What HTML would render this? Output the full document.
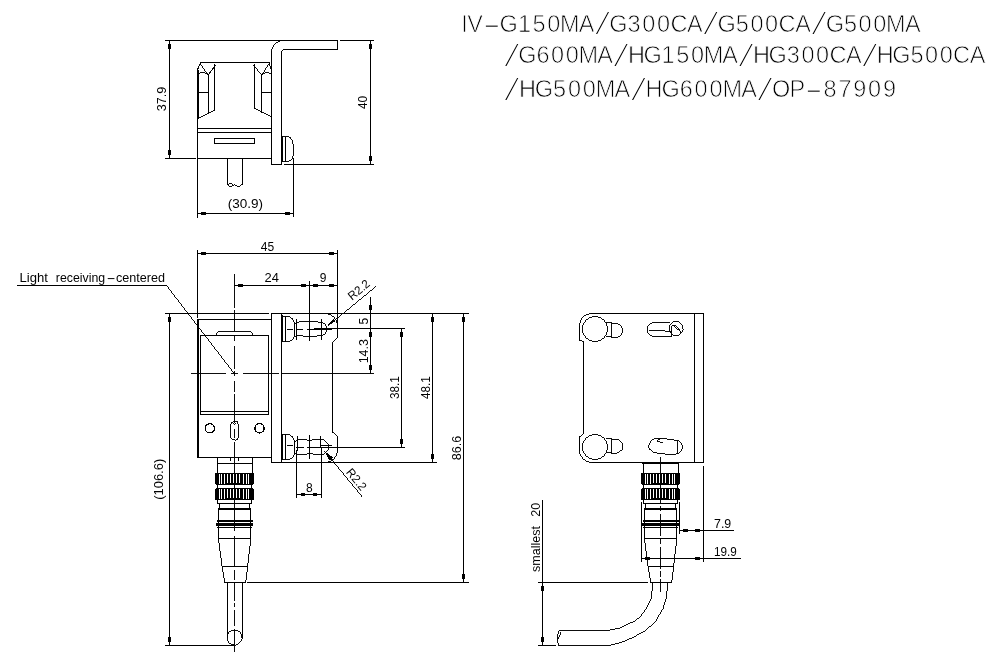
<!DOCTYPE html>
<html lang="en"><head><meta charset="utf-8"><title>IV-G series dimensions</title>
<style>html,body{margin:0;padding:0;background:#fff}body{width:1000px;height:662px;overflow:hidden}svg{display:block}.t{stroke:#fff;stroke-width:0.75px}</style>
</head><body>
<svg width="1000" height="662" viewBox="0 0 1000 662">
<rect width="1000" height="662" fill="#fff"/>
<g fill="#000" stroke="none" shape-rendering="crispEdges">
<rect x="165" y="40" width="173" height="1"/>
<rect x="340" y="40" width="34" height="1"/>
<rect x="169" y="40" width="1" height="119"/>
<rect x="168" y="44" width="3" height="5"/>
<rect x="168" y="150" width="3" height="5"/>
<rect x="165" y="158" width="31" height="1"/>
<rect x="197" y="158" width="75" height="1"/>
<rect x="197" y="68" width="1" height="150"/>
<rect x="198" y="70" width="1" height="49"/>
<rect x="200" y="62" width="70" height="1"/>
<rect x="370" y="40" width="1" height="125"/>
<rect x="369" y="44" width="3" height="5"/>
<rect x="369" y="156" width="3" height="5"/>
<rect x="284" y="164" width="90" height="1"/>
<rect x="271" y="164" width="11" height="1"/>
<rect x="271" y="51" width="1" height="114"/>
<rect x="281" y="51" width="1" height="114"/>
<rect x="283" y="49" width="55" height="1"/>
<rect x="337" y="40" width="1" height="10"/>
<rect x="197" y="128" width="75" height="1"/>
<rect x="197" y="132" width="75" height="1"/>
<rect x="214" y="138" width="41" height="1"/>
<rect x="214" y="143" width="41" height="1"/>
<rect x="214" y="138" width="1" height="6"/>
<rect x="254" y="138" width="1" height="6"/>
<rect x="227" y="158" width="1" height="27"/>
<rect x="242" y="158" width="1" height="27"/>
<rect x="208" y="74" width="1" height="39"/>
<rect x="214" y="64" width="1" height="46"/>
<rect x="197" y="92" width="12" height="1"/>
<rect x="254" y="64" width="1" height="45"/>
<rect x="261" y="74" width="1" height="39"/>
<rect x="261" y="92" width="11" height="1"/>
<rect x="293" y="158" width="1" height="59"/>
<rect x="197" y="213" width="97" height="1"/>
<rect x="201" y="212" width="5" height="3"/>
<rect x="285" y="212" width="5" height="3"/>
<rect x="282" y="136" width="1" height="26"/>
<rect x="285" y="137" width="1" height="25"/>
<rect x="165" y="313" width="104" height="1"/>
<rect x="271" y="313" width="198" height="1"/>
<rect x="169" y="313" width="1" height="333"/>
<rect x="168" y="317" width="3" height="5"/>
<rect x="168" y="637" width="3" height="5"/>
<rect x="165" y="645" width="69" height="1"/>
<rect x="197" y="250" width="1" height="68"/>
<rect x="337" y="250" width="1" height="77"/>
<rect x="197" y="253" width="141" height="1"/>
<rect x="201" y="252" width="5" height="3"/>
<rect x="329" y="252" width="5" height="3"/>
<rect x="234" y="285" width="104" height="1"/>
<rect x="238" y="284" width="5" height="3"/>
<rect x="301" y="284" width="5" height="3"/>
<rect x="313" y="284" width="5" height="3"/>
<rect x="329" y="284" width="5" height="3"/>
<rect x="309" y="281" width="1" height="60"/>
<rect x="197" y="319" width="2" height="139"/>
<rect x="197" y="319" width="75" height="1"/>
<rect x="197" y="457" width="75" height="1"/>
<rect x="200" y="335" width="1" height="80"/>
<rect x="268" y="335" width="1" height="80"/>
<rect x="200" y="335" width="69" height="1"/>
<rect x="200" y="411" width="69" height="1"/>
<rect x="200" y="414" width="69" height="1"/>
<rect x="271" y="313" width="1" height="150"/>
<rect x="281" y="313" width="1" height="150"/>
<rect x="271" y="462" width="166" height="1"/>
<rect x="332" y="343" width="1" height="90"/>
<rect x="337" y="326" width="1" height="12"/>
<rect x="337" y="437" width="1" height="14"/>
<rect x="370" y="297" width="1" height="77"/>
<rect x="369" y="305" width="3" height="5"/>
<rect x="369" y="332" width="3" height="5"/>
<rect x="369" y="365" width="3" height="5"/>
<rect x="314" y="328" width="91" height="1"/>
<rect x="401" y="328" width="1" height="120"/>
<rect x="400" y="332" width="3" height="5"/>
<rect x="400" y="439" width="3" height="5"/>
<rect x="321" y="447" width="84" height="1"/>
<rect x="432" y="313" width="1" height="150"/>
<rect x="431" y="317" width="3" height="5"/>
<rect x="431" y="454" width="3" height="5"/>
<rect x="463" y="313" width="1" height="270"/>
<rect x="462" y="317" width="3" height="5"/>
<rect x="462" y="574" width="3" height="5"/>
<rect x="247" y="582" width="222" height="1"/>
<rect x="296" y="450" width="1" height="48"/>
<rect x="321" y="447" width="1" height="51"/>
<rect x="296" y="494" width="26" height="1"/>
<rect x="301" y="493" width="4" height="3"/><rect x="313" y="493" width="4" height="3"/>
<rect x="282" y="315" width="1" height="27"/>
<rect x="285" y="316" width="1" height="26"/>
<rect x="294" y="323" width="1" height="13"/>
<rect x="282" y="434" width="1" height="26"/>
<rect x="285" y="434" width="1" height="26"/>
<rect x="294" y="441" width="1" height="13"/>
<rect x="296" y="319" width="1" height="21"/>
<rect x="321" y="319" width="1" height="21"/>
<rect x="297" y="436" width="1" height="15"/>
<rect x="309" y="435" width="1" height="24"/>
<rect x="320" y="436" width="1" height="12"/>
<rect x="287" y="329" width="6" height="1"/>
<rect x="296" y="329" width="7" height="1"/>
<rect x="307" y="329" width="25" height="1"/>
<rect x="287" y="445" width="6" height="1"/>
<rect x="320" y="445" width="12" height="1"/>
<rect x="296" y="447" width="8" height="1"/>
<rect x="307" y="447" width="14" height="1"/>
<rect x="230" y="458" width="1" height="3"/>
<rect x="238" y="458" width="1" height="3"/>
<rect x="217" y="457" width="1" height="16"/>
<rect x="252" y="457" width="1" height="16"/>
<rect x="217" y="463" width="35" height="1"/>
<rect x="215" y="473" width="39" height="11"/><rect x="216" y="484" width="37" height="1"/>
<rect x="215" y="489" width="39" height="11"/><rect x="216" y="488" width="37" height="1"/>
<rect x="217" y="485" width="1" height="4"/>
<rect x="251" y="485" width="1" height="4"/>
<rect x="217" y="500" width="1" height="4"/>
<rect x="251" y="500" width="1" height="4"/>
<rect x="217" y="503" width="35" height="1"/>
<rect x="219" y="503" width="1" height="7"/>
<rect x="249" y="503" width="1" height="7"/>
<rect x="218" y="508" width="33" height="2"/>
<rect x="218" y="509" width="1" height="30"/>
<rect x="250" y="509" width="1" height="30"/>
<rect x="217" y="520" width="36" height="2"/>
<rect x="216" y="523" width="37" height="3"/>
<rect x="217" y="527" width="35" height="1"/>
<rect x="218" y="538" width="33" height="1"/>
<rect x="222" y="566" width="26" height="1"/>
<rect x="224" y="582" width="22" height="1"/>
<rect x="643" y="462" width="1" height="11"/>
<rect x="678" y="462" width="1" height="11"/>
<rect x="643" y="463" width="35" height="1"/>
<rect x="641" y="473" width="39" height="11"/><rect x="642" y="484" width="37" height="1"/>
<rect x="641" y="489" width="39" height="11"/><rect x="642" y="488" width="37" height="1"/>
<rect x="643" y="485" width="1" height="4"/>
<rect x="677" y="485" width="1" height="4"/>
<rect x="643" y="500" width="1" height="4"/>
<rect x="677" y="500" width="1" height="4"/>
<rect x="643" y="503" width="35" height="1"/>
<rect x="645" y="503" width="1" height="7"/>
<rect x="675" y="503" width="1" height="7"/>
<rect x="644" y="508" width="33" height="2"/>
<rect x="644" y="509" width="1" height="30"/>
<rect x="676" y="509" width="1" height="30"/>
<rect x="643" y="520" width="36" height="2"/>
<rect x="642" y="523" width="37" height="3"/>
<rect x="643" y="527" width="35" height="1"/>
<rect x="644" y="538" width="33" height="1"/>
<rect x="648" y="566" width="26" height="1"/>
<rect x="650" y="582" width="22" height="1"/>
<rect x="227" y="582" width="1" height="56"/>
<rect x="242" y="582" width="1" height="56"/>
<rect x="591" y="313" width="113" height="1"/>
<rect x="703" y="313" width="1" height="150"/>
<rect x="694" y="313" width="1" height="150"/>
<rect x="592" y="462" width="112" height="1"/>
<rect x="642" y="463" width="37" height="1"/>
<rect x="579" y="326" width="1" height="15"/>
<rect x="583" y="342" width="1" height="92"/>
<rect x="579" y="436" width="1" height="15"/>
<rect x="641" y="502" width="1" height="60"/>
<rect x="679" y="502" width="1" height="32"/>
<rect x="703" y="466" width="1" height="96"/>
<rect x="679" y="530" width="55" height="1"/>
<rect x="683" y="529" width="5" height="3"/>
<rect x="695" y="529" width="5" height="3"/>
<rect x="641" y="558" width="100" height="1"/>
<rect x="645" y="557" width="5" height="3"/>
<rect x="695" y="557" width="5" height="3"/>
<rect x="542" y="500" width="1" height="146"/>
<rect x="541" y="586" width="3" height="5"/>
<rect x="541" y="637" width="3" height="5"/>
<rect x="538" y="582" width="110" height="1"/>
<rect x="538" y="645" width="18" height="1"/>
<rect x="17" y="285" width="150" height="1"/>
</g>
<g fill="#fff" stroke="none" shape-rendering="crispEdges">
<rect x="219" y="474" width="1" height="10"/>
<rect x="221" y="474" width="1" height="10"/>
<rect x="224" y="474" width="1" height="10"/>
<rect x="227" y="474" width="1" height="9"/>
<rect x="230" y="474" width="1" height="9"/>
<rect x="233" y="474" width="1" height="9"/>
<rect x="236" y="474" width="1" height="9"/>
<rect x="239" y="474" width="1" height="9"/>
<rect x="243" y="474" width="1" height="10"/>
<rect x="246" y="474" width="1" height="10"/>
<rect x="248" y="474" width="1" height="10"/>
<rect x="219" y="489" width="1" height="10"/>
<rect x="221" y="489" width="1" height="10"/>
<rect x="224" y="489" width="1" height="10"/>
<rect x="227" y="489" width="1" height="9"/>
<rect x="230" y="489" width="1" height="9"/>
<rect x="233" y="489" width="1" height="9"/>
<rect x="236" y="489" width="1" height="9"/>
<rect x="239" y="489" width="1" height="9"/>
<rect x="243" y="489" width="1" height="10"/>
<rect x="246" y="489" width="1" height="10"/>
<rect x="248" y="489" width="1" height="10"/>
<rect x="645" y="474" width="1" height="10"/>
<rect x="647" y="474" width="1" height="10"/>
<rect x="650" y="474" width="1" height="10"/>
<rect x="653" y="474" width="1" height="9"/>
<rect x="656" y="474" width="1" height="9"/>
<rect x="659" y="474" width="1" height="9"/>
<rect x="662" y="474" width="1" height="9"/>
<rect x="665" y="474" width="1" height="9"/>
<rect x="669" y="474" width="1" height="10"/>
<rect x="672" y="474" width="1" height="10"/>
<rect x="674" y="474" width="1" height="10"/>
<rect x="645" y="489" width="1" height="10"/>
<rect x="647" y="489" width="1" height="10"/>
<rect x="650" y="489" width="1" height="10"/>
<rect x="653" y="489" width="1" height="9"/>
<rect x="656" y="489" width="1" height="9"/>
<rect x="659" y="489" width="1" height="9"/>
<rect x="662" y="489" width="1" height="9"/>
<rect x="665" y="489" width="1" height="9"/>
<rect x="669" y="489" width="1" height="10"/>
<rect x="672" y="489" width="1" height="10"/>
<rect x="674" y="489" width="1" height="10"/>
</g>
<g fill="none" stroke="#000" stroke-width="0.95" shape-rendering="crispEdges">
<path d="M271.5 52 A11.5 11.5 0 0 1 283 40.5" />
<path d="M281.5 52 A2.5 2.5 0 0 1 284 49.5" />
<path d="M197.5 69 L200 62.5 L208.5 74.5 L216 65" />
<path d="M197.5 74 Q203 71 208.5 74.5" />
<path d="M208.5 74.5 L214.5 66" />
<path d="M214.5 109.5 L197.5 118.5" />
<path d="M271.5 69 L269 62.5 L261.5 74.5 L253 65" />
<path d="M271.5 74 Q266 71 261.5 74.5" />
<path d="M254.5 108.5 L271.5 117.5" />
<path d="M227.5 184 Q229 187 232 186 Q234 183 237 186 Q240 187.5 242.5 184" />
<path d="M227.5 184 Q230 181.5 233 184.5" />
<path d="M282.5 136.5 L288 136.5 L290.5 138 L292.3 140.5 L293.5 144.5 L293.5 153.5 L292.3 157.5 L290.5 160 L288 161.5 L282.5 161.5" />
<path d="M167.3 285.5 L235 373.5" />
<path d="M215.5 335.5 Q216 331.5 219 331.5 L250 331.5 Q253 331.5 253.5 335.5" />
<circle cx="209.8" cy="428.3" r="4.6" stroke-width="1.3"/><circle cx="259.5" cy="428.3" r="4.6" stroke-width="1.3"/>
<path d="M230.5 425 A4 4 0 0 1 238.5 425 L238.5 436 A4 4 0 0 1 230.5 436 Z" />
<circle cx="234.5" cy="423.5" r="1"/>
<path d="M325 313.5 A12.5 12.5 0 0 1 337.5 326" />
<path d="M337.5 337 L332.5 343" />
<path d="M332.5 432 L337.5 437" />
<path d="M337.5 450 A12.5 12.5 0 0 1 325 462.5" />
<path d="M282.5 316.5 L289 316.5 Q293.5 318 294.5 323.5 M282.5 341.5 L288.5 341.5 Q293.5 340 294.5 335.5" />
<path d="M294.5 323.5 Q296 322.3 299 322 Q303 321.5 309 321.5 Q315 321.5 321 322.3 A6.8 6.8 0 0 1 321 335.7 Q315 336.3 309 336.3 Q303 336.3 299 335.5 Q296 335.5 294.5 336" />
<path d="M282.5 434.5 L289 434.5 Q293.5 436 294.5 441.5 M282.5 459.5 L288.5 459.5 Q293.5 458 294.5 453.5" />
<path d="M294.5 441.5 Q296 439.7 299 439.4 Q303 439.3 309 440.4 Q315 439.3 321 439.4 A7.6 7.6 0 0 1 321 454.6 Q315 454.6 309 453.5 Q303 454.6 299 454.6 Q296 454.6 294.5 453" />
<path d="M375.5 286 L327.5 325.5" />
<path d="M324.5 451 L362 496.5" />
<circle cx="234.5" cy="637.5" r="7.5"/>
<path d="M218.5 538.5 L222.2 566.5 L225.0 582.5" />
<path d="M250.7 538.5 L247.5 566.5 L245.5 582.5" />
<path d="M644.5 538.5 L648.2 566.5 L651.0 582.5" />
<path d="M676.7 538.5 L673.5 566.5 L671.5 582.5" />
<path d="M591.5 313.5 A12 12 0 0 0 579.5 325.5" />
<path d="M579.5 340 L583.5 342" />
<path d="M583.5 433 L579.5 436" />
<path d="M579.5 450.5 A12.5 12.5 0 0 0 592 462.5" />
<circle cx="594.9" cy="329" r="12.6"/>
<circle cx="594.9" cy="447" r="12.6"/>
<path d="M605.5 322.5 L611.5 322.5 M605.5 336.5 L611.5 336.5 M611.5 323.0 L611.5 338.0" />
<path d="M611.5 323.5 L617 323.5 C620 324.0 622.5 327.0 622.5 330.5 C622.5 334.0 620 337.0 617 337.5 L611.5 337.8" />
<path d="M605.5 438 L611.5 438 M605.5 452 L611.5 452 M611.5 438.5 L611.5 453.5" />
<path d="M611.5 439 L617 439 C620 439.5 622.5 442.5 622.5 446 C622.5 449.5 620 452.5 617 453 L611.5 453.3" />
<path d="M654.5 322.5 L669.5 322.5 M654 336.5 L671.5 336.5 M654.5 322.5 A7 7 0 0 0 654 336.5" />
<circle cx="676" cy="328.5" r="7"/>
<path d="M671.5 325.5 L671.5 336.5 M648.5 330.5 L662 330.5 L671.5 332 M671.5 325 L680.5 332.5 M671.5 325 Q678.5 324.5 680.5 332.5" />
<path d="M654.5 438.5 L660.5 438.5 L671 439.5 L677.5 440.5 Q682.5 442.5 682.5 447 Q682.5 451.5 677.5 453.5 L675 454.5 L669 454.5 L659 453.3 L654 452.5 Q648.5 450 648.5 445.5 Q648.5 441 654.5 438.5" />
<path d="M677.5 440.5 L677.5 453.5 M660.5 438.5 Q656.5 440 658 441.5 L662.5 442.5" />
<path d="M652.5 582.5 L651.5 596.5 L646.5 607.5 L639.5 616.5 L631.5 622.5 L619 628.3 L608 630.5 L558.5 630.5" />
<path d="M667.5 582.5 L666.5 596.5 L663 607.5 L655.5 620.5 L643.5 631.5 L633 637.5 L621 642.5 L609 645.5 L558.5 645.5" />
<path d="M558.5 630.5 Q555.5 638 558.5 645.5 M558.5 630.5 Q562.5 634 558 638.5" />
</g>
<g fill="none" stroke="#000" stroke-width="0.95" shape-rendering="crispEdges">
<path d="M234.5 274 L234.5 308" />
<path d="M234.5 310 L234.5 331" />
<path d="M234.5 336 L234.5 341" />
<path d="M234.5 346 L234.5 369" />
<path d="M234.5 371 L234.5 376" />
<path d="M234.5 381 L234.5 392" />
<path d="M234.5 394 L234.5 423" />
<path d="M234.5 429 L234.5 438" />
<path d="M234.5 442 L234.5 531" />
<path d="M234.5 536 L234.5 566" />
<path d="M234.5 570 L234.5 580" />
<path d="M234.5 583 L234.5 601" />
<path d="M234.5 603 L234.5 607" />
<path d="M234.5 610 L234.5 626" />
<path d="M234.5 629 L234.5 652" />
<path d="M660.5 457 L660.5 504" />
<path d="M660.5 506 L660.5 511" />
<path d="M660.5 514 L660.5 536" />
<path d="M660.5 539 L660.5 544" />
<path d="M660.5 547 L660.5 569" />
<path d="M660.5 571 L660.5 577" />
<path d="M660.5 579 L660.5 592" />
<path d="M191 373.5 L226 373.5 M231 373.5 L238 373.5 M243 373.5 L279 373.5 M282 373.5 L374 373.5" />
</g>
<g fill="#000" stroke="none" shape-rendering="crispEdges">
<path d="M327.5 325.5 L335.2 321.4 L333.3 319 Z" />
<path d="M324.5 451 L329.5 460.5 L333 457.5 Z" />
</g>
<g opacity="0.999" fill="#000" stroke="none" font-family="'Liberation Sans',sans-serif">
<text y="31.5" font-size="23.5" class="t"><tspan x="461.2 467.2">IV</tspan><tspan x="482.5" textLength="18.6" lengthAdjust="spacingAndGlyphs">-</tspan><tspan x="499.6 517.9 532.6 547.3 560.1 578.8">G150MA</tspan><tspan x="593.6" dy="3.5" font-size="33.5" stroke-width="1.9" textLength="18" lengthAdjust="spacingAndGlyphs">/</tspan><tspan dy="-3.5" x="609.3 627.5 642.2 656.9 670.4 687.0">G300CA</tspan><tspan x="701.8" dy="3.5" font-size="33.5" stroke-width="1.9" textLength="18" lengthAdjust="spacingAndGlyphs">/</tspan><tspan dy="-3.5" x="717.5 735.7 750.4 765.1 778.5 795.2">G500CA</tspan><tspan x="810.0" dy="3.5" font-size="33.5" stroke-width="1.9" textLength="18" lengthAdjust="spacingAndGlyphs">/</tspan><tspan dy="-3.5" x="825.7 843.9 858.6 873.3 886.1 904.9">G500MA</tspan></text>
<text y="63" font-size="23.5" class="t"><tspan x="502.7" dy="3.5" font-size="33.5" stroke-width="1.9" textLength="18" lengthAdjust="spacingAndGlyphs">/</tspan><tspan dy="-3.5" x="518.3 536.4 551.1 565.7 578.5 597.2">G600MA</tspan><tspan x="611.9" dy="3.5" font-size="33.5" stroke-width="1.9" textLength="18" lengthAdjust="spacingAndGlyphs">/</tspan><tspan dy="-3.5" x="627.9 643.5 661.6 676.3 690.9 703.7 722.3">HG150MA</tspan><tspan x="737.1" dy="3.5" font-size="33.5" stroke-width="1.9" textLength="18" lengthAdjust="spacingAndGlyphs">/</tspan><tspan dy="-3.5" x="753.1 768.6 786.8 801.4 816.1 829.4 846.0">HG300CA</tspan><tspan x="860.7" dy="3.5" font-size="33.5" stroke-width="1.9" textLength="18" lengthAdjust="spacingAndGlyphs">/</tspan><tspan dy="-3.5" x="876.8 892.3 910.4 925.1 939.7 953.1 969.7">HG500CA</tspan></text>
<text y="97" font-size="23.5" class="t"><tspan x="502.8" dy="3.5" font-size="33.5" stroke-width="1.9" textLength="18" lengthAdjust="spacingAndGlyphs">/</tspan><tspan dy="-3.5" x="519.0 534.7 553.0 567.9 582.7 595.7 614.5">HG500MA</tspan><tspan x="629.4" dy="3.5" font-size="33.5" stroke-width="1.9" textLength="18" lengthAdjust="spacingAndGlyphs">/</tspan><tspan dy="-3.5" x="645.6 661.4 679.7 694.5 709.4 722.4 741.2">HG600MA</tspan><tspan x="756.1" dy="3.5" font-size="33.5" stroke-width="1.9" textLength="18" lengthAdjust="spacingAndGlyphs">/</tspan><tspan dy="-3.5" x="771.9 789.4">OP</tspan><tspan x="804.5" textLength="18.6" lengthAdjust="spacingAndGlyphs">-</tspan><tspan x="823.5 838.4 853.2 868.0 882.9">87909</tspan></text>
<text y="282" font-size="13"><tspan x="19.6" textLength="28.4" lengthAdjust="spacingAndGlyphs">Light</tspan> <tspan x="55.8" textLength="49.3" lengthAdjust="spacingAndGlyphs">receiving</tspan><tspan x="106.4" textLength="9.2" lengthAdjust="spacingAndGlyphs">-</tspan><tspan x="116" textLength="49" lengthAdjust="spacingAndGlyphs">centered</tspan></text>
<text transform="translate(166.3 99) rotate(-90)" font-size="12" text-anchor="middle" textLength="24.4" lengthAdjust="spacingAndGlyphs">37.9</text>
<text transform="translate(367.4 102.4) rotate(-90)" font-size="12" text-anchor="middle" textLength="13.2" lengthAdjust="spacingAndGlyphs">40</text>
<text x="245.4" y="208" font-size="12" text-anchor="middle" textLength="35.3" lengthAdjust="spacingAndGlyphs">(30.9)</text>
<text x="267.5" y="251" font-size="12" text-anchor="middle" textLength="13.4" lengthAdjust="spacingAndGlyphs">45</text>
<text x="271.8" y="282" font-size="12" text-anchor="middle" textLength="14.4" lengthAdjust="spacingAndGlyphs">24</text>
<text x="323.2" y="282" font-size="12" text-anchor="middle">9</text>
<text transform="translate(367.7 321.2) rotate(-90)" font-size="12" text-anchor="middle">5</text>
<text transform="translate(367.7 351.2) rotate(-90)" font-size="12" text-anchor="middle" textLength="24.3" lengthAdjust="spacingAndGlyphs">14.3</text>
<text transform="translate(399.3 387.7) rotate(-90)" font-size="12" text-anchor="middle" textLength="22.7" lengthAdjust="spacingAndGlyphs">38.1</text>
<text transform="translate(429.8 387.7) rotate(-90)" font-size="12" text-anchor="middle" textLength="22.7" lengthAdjust="spacingAndGlyphs">48.1</text>
<text transform="translate(460.9 448) rotate(-90)" font-size="12" text-anchor="middle" textLength="24.5" lengthAdjust="spacingAndGlyphs">86.6</text>
<text transform="translate(163 479.3) rotate(-90)" font-size="12" text-anchor="middle" textLength="41" lengthAdjust="spacingAndGlyphs">(106.6)</text>
<text x="309.3" y="491.5" font-size="12" text-anchor="middle">8</text>
<text transform="translate(361.4 293) rotate(-39.7)" font-size="12" text-anchor="middle" textLength="24.5" lengthAdjust="spacingAndGlyphs">R2.2</text>
<text transform="translate(345.6 472.5) rotate(50.4)" font-size="12" textLength="24.5" lengthAdjust="spacingAndGlyphs">R2.2</text>
<text transform="translate(540 572) rotate(-90)" font-size="12.5" word-spacing="5.7" textLength="69.1" lengthAdjust="spacing">smallest 20</text>
<text x="722.6" y="528" font-size="12" text-anchor="middle" textLength="17.2" lengthAdjust="spacingAndGlyphs">7.9</text>
<text x="725.4" y="556" font-size="12" text-anchor="middle" textLength="22.8" lengthAdjust="spacingAndGlyphs">19.9</text>
</g>
</svg>
</body></html>
